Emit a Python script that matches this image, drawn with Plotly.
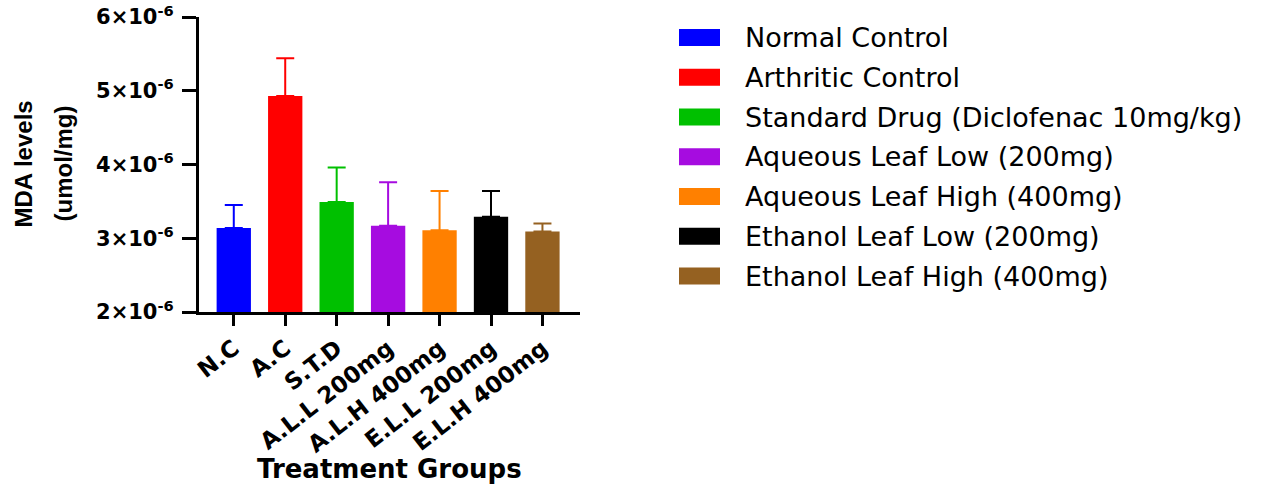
import plotly.graph_objects as go

# Group labels, legend names and colours
groups = ["N.C", "A.C", "S.T.D", "A.L.L 200mg", "A.L.H 400mg", "E.L.L 200mg", "E.L.H 400mg"]
names = [
    "Normal Control",
    "Arthritic Control",
    "Standard Drug (Diclofenac 10mg/kg)",
    "Aqueous Leaf Low (200mg)",
    "Aqueous Leaf High (400mg)",
    "Ethanol Leaf Low (200mg)",
    "Ethanol Leaf High (400mg)",
]
colors = ["#0000FF", "#FF0000", "#00C000", "#A60CE0", "#FF8000", "#000000", "#956121"]

# MDA levels (umol/mg): mean and SD
mda_mean = [3.14e-6, 4.93e-6, 3.49e-6, 3.17e-6, 3.11e-6, 3.29e-6, 3.09e-6]
mda_sd = [0.31e-6, 0.51e-6, 0.47e-6, 0.59e-6, 0.53e-6, 0.35e-6, 0.11e-6]

# Y axis ticks
y_ticks = [2e-6, 3e-6, 4e-6, 5e-6, 6e-6]
y_ticktext = ["2×10<sup>-6</sup>", "3×10<sup>-6</sup>", "4×10<sup>-6</sup>",
              "5×10<sup>-6</sup>", "6×10<sup>-6</sup>"]

# Page geometry (pixels)
WIDTH, HEIGHT = 1265, 487
L, T, PW, PH = 199, 17, 381, 295
R = WIDTH - L - PW
B = HEIGHT - T - PH


def px_x(px):
    return (px - L) / PW


def px_y(py):
    return (T + PH - py) / PH


BOLD = dict(family="DejaVu Sans", weight="bold", color="black")

fig = go.Figure()
for i, g in enumerate(groups):
    fig.add_trace(go.Bar(
        x=[i], y=[mda_mean[i]], width=0.667,
        marker=dict(color=colors[i], line=dict(width=0)),
        error_y=dict(type="data", symmetric=False, array=[mda_sd[i]], arrayminus=[0],
                     color=colors[i], thickness=2, width=9),
        name=names[i], showlegend=False,
    ))

fig.update_layout(
    width=WIDTH, height=HEIGHT,
    margin=dict(l=L, r=R, t=T, b=B, pad=0, autoexpand=False),
    paper_bgcolor="white", plot_bgcolor="white",
    barmode="overlay",
    xaxis=dict(
        range=[-0.676, 6.73], automargin=False,
        tickmode="array", tickvals=list(range(len(groups))), ticktext=groups,
        tickangle=-38, ticks="outside", ticklen=11, tickwidth=3, tickcolor="black",
        tickfont=dict(size=23, **BOLD),
        showline=True, linecolor="black", linewidth=3,
        showgrid=False, zeroline=False,
    ),
    yaxis=dict(
        range=[2e-6, 6e-6], automargin=False,
        tickmode="array", tickvals=y_ticks, ticktext=y_ticktext,
        ticks="outside", ticklen=14, tickwidth=3, tickcolor="black",
        tickfont=dict(size=21, **BOLD), ticklabelstandoff=4,
        showline=True, linecolor="black", linewidth=3,
        showgrid=False, zeroline=False,
    ),
)

annotations = []
# Y axis title (two lines)
ytitle_font = dict(family="Liberation Sans", weight="bold", size=24, color="black")
for text, cx in [("MDA levels", 22.5), ("(umol/mg)", 62.5)]:
    annotations.append(dict(
        text=text, textangle=-90, x=px_x(cx), y=px_y(164), xref="paper", yref="paper",
        xanchor="center", yanchor="middle", showarrow=False, font=ytitle_font,
    ))
# X axis title
annotations.append(dict(
    text="Treatment Groups", x=px_x(389), y=px_y(469), xref="paper", yref="paper",
    xanchor="center", yanchor="middle", showarrow=False,
    font=dict(size=26, **BOLD),
))

# Legend: colour swatch plus name for each group
shapes = []
for i, nm in enumerate(names):
    cy = 37.5 + 39.75 * i
    shapes.append(dict(
        type="rect", xref="paper", yref="paper",
        x0=px_x(679), x1=px_x(720), y0=px_y(cy - 8.5), y1=px_y(cy + 8.5),
        fillcolor=colors[i], line=dict(width=0),
    ))
    annotations.append(dict(
        text=nm, x=px_x(743), y=px_y(cy), xref="paper", yref="paper",
        xanchor="left", yanchor="middle", showarrow=False,
        font=dict(family="DejaVu Sans", size=27, color="black"),
    ))

fig.update_layout(annotations=annotations, shapes=shapes)
fig.write_html("out.html")
